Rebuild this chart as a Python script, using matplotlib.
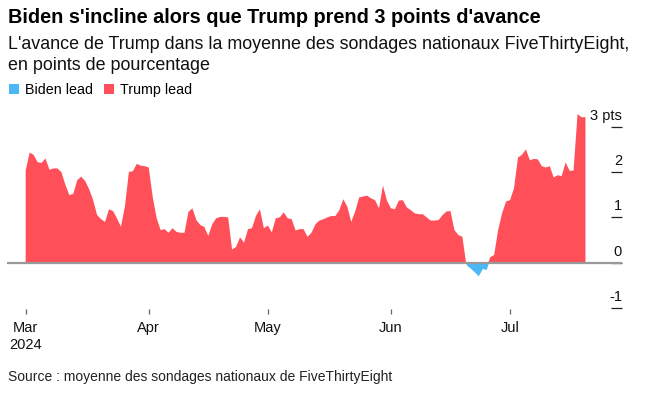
import numpy as np
import matplotlib
matplotlib.use("Agg")
import matplotlib.pyplot as plt
import matplotlib.dates as mdates
import matplotlib.transforms as mtransforms
from matplotlib.patches import Patch
import datetime as dt

plt.rcParams['font.family'] = ['Liberation Sans', 'DejaVu Sans']

# ---- data: Trump lead (points), daily from 2024-03-01 ----
start_date = "2024-03-01"
trump_lead = [
    2.03, 2.43, 2.38, 2.22, 2.20, 2.30, 2.05, 2.08, 2.08, 2.00,
    1.72, 1.49, 1.52, 1.82, 1.90, 1.80, 1.62, 1.38, 1.05, 0.96,
    0.90, 1.18, 1.14, 0.98, 0.79, 1.24, 2.00, 2.02, 2.18, 2.14,
    2.13, 2.10, 1.45, 0.98, 0.72, 0.74, 0.66, 0.76, 0.68, 0.66,
    0.66, 1.12, 1.20, 0.94, 0.83, 0.79, 0.59, 0.85, 0.98, 1.01,
    1.01, 1.00, 0.29, 0.35, 0.56, 0.44, 0.74, 0.76, 1.03, 1.18,
    0.76, 0.82, 0.67, 0.98, 1.00, 1.11, 0.98, 0.96, 0.71, 0.74,
    0.74, 0.57, 0.66, 0.85, 0.93, 0.96, 1.00, 1.03, 1.03, 1.16,
    1.40, 1.24, 0.90, 1.13, 1.44, 1.46, 1.48, 1.42, 1.38, 1.20,
    1.70, 1.37, 1.20, 1.18, 1.37, 1.38, 1.22, 1.16, 1.09, 1.07,
    1.07, 1.00, 0.93, 0.93, 0.94, 1.05, 1.13, 1.14, 0.72, 0.61,
    0.57, -0.05, -0.12, -0.20, -0.29, -0.13, -0.15, 0.12, 0.17, 0.72,
    1.09, 1.35, 1.38, 1.64, 2.32, 2.38, 2.50, 2.26, 2.29, 2.28,
    2.13, 2.10, 2.13, 1.88, 1.93, 1.91, 2.21, 2.03, 2.03, 3.28,
    3.21, 3.21,
]
month_ticks = ["2024-03-01", "2024-04-01", "2024-05-01", "2024-06-01", "2024-07-01"]
month_labels = ["Mar\n2024", "Apr", "May", "Jun", "Jul"]
y_ticks = [-1, 0, 1, 2, 3]
y_labels = ["-1", "0", "1", "2", "3 pts"]

RED = "#ff505a"
BLUE = "#4ab8f5"

dates = np.array(np.datetime64(start_date) + np.arange(len(trump_lead)), dtype="datetime64[D]")
x = mdates.date2num(dates.astype(dt.datetime))
y = np.array(trump_lead)

W, H = 670, 399
fig = plt.figure(figsize=(W / 100, H / 100), dpi=100)

def fx(px):
    return px / W

def fy(py):
    return 1 - py / H

ax_left, ax_right, ax_top, ax_bottom = 7, 622, 100, 309
ax = fig.add_axes([fx(ax_left), fy(ax_bottom), fx(ax_right - ax_left), (ax_bottom - ax_top) / H])

ax.fill_between(x, y, 0, where=y >= 0, interpolate=True, color=RED, lw=0)
ax.fill_between(x, y, 0, where=y <= 0, interpolate=True, color=BLUE, lw=0)
ax.axhline(0, color="#999999", lw=1.6, zorder=3)

x0 = x[0]
ax.set_xlim(x0 - 4.7, x0 + 150.2)
ax.set_ylim(-1.022, 3.59)

for s in ax.spines.values():
    s.set_visible(False)

tick_x = mdates.date2num([dt.datetime.fromisoformat(d) for d in month_ticks])
ax.set_xticks(tick_x)
ax.set_xticklabels(month_labels, fontsize=10.5, color="#111111", linespacing=1.25)
ax.tick_params(axis="x", direction="out", length=3.5, width=0.9, color="#666666", pad=5)

ax.set_yticks(y_ticks)
ax.tick_params(axis="y", left=False, right=True, labelleft=False, labelright=False,
               direction="in", length=8, width=0.9, color="#222222")
ytrans = mtransforms.blended_transform_factory(ax.transAxes, ax.transData)
for v, lab in zip(y_ticks, y_labels):
    ax.annotate(lab, xy=(1.0, v), xycoords=ytrans, xytext=(0, 5), textcoords="offset points",
                ha="right", va="baseline", fontsize=10.5, color="#111111")

# titles
fig.text(fx(8), fy(22.7), "Biden s'incline alors que Trump prend 3 points d'avance",
         fontsize=14.3, fontweight="bold", color="#000000", va="baseline", ha="left")
fig.text(fx(8), fy(49.3), "L'avance de Trump dans la moyenne des sondages nationaux FiveThirtyEight,",
         fontsize=12.9, color="#111111", va="baseline", ha="left")
fig.text(fx(8), fy(70), "en points de pourcentage",
         fontsize=12.9, color="#111111", va="baseline", ha="left")

# legend
handles = [Patch(facecolor=BLUE, edgecolor="none", label="Biden lead"),
           Patch(facecolor=RED, edgecolor="none", label="Trump lead")]
fig.legend(handles=handles, loc="upper left", bbox_to_anchor=(fx(6), fy(80)), ncol=2,
           frameon=False, fontsize=10.3, handlelength=0.7, handleheight=0.7,
           handletextpad=0.45, columnspacing=0.75, borderpad=0.2, borderaxespad=0)

fig.text(fx(8), fy(380.7), "Source : moyenne des sondages nationaux de FiveThirtyEight",
         fontsize=10.0, color="#222222", va="baseline", ha="left")

fig.savefig("out.png", dpi=100)
